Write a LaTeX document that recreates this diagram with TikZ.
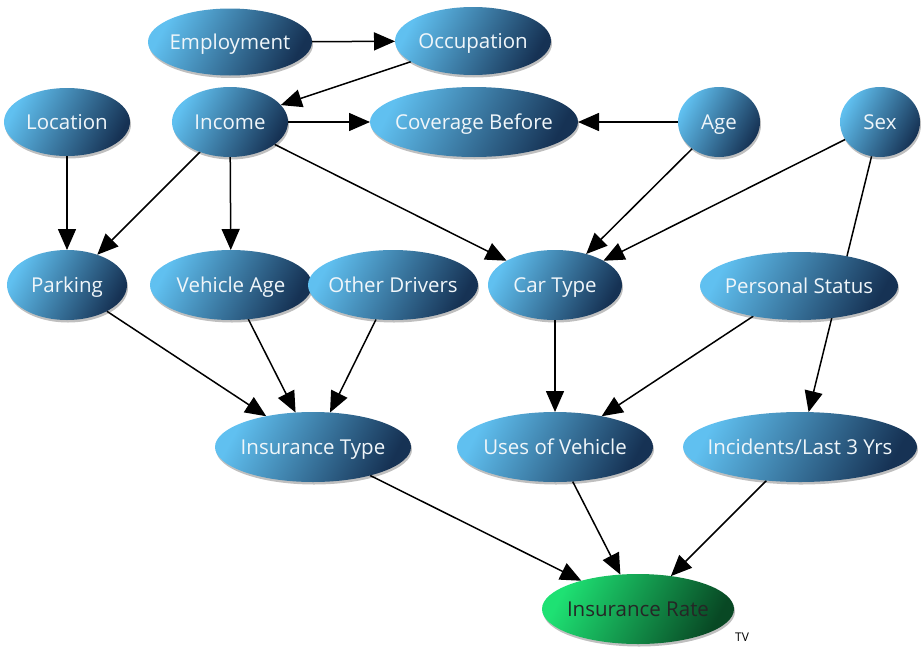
\documentclass[tikz,border=0pt]{standalone}
\usepackage{fontspec}
\setmainfont{Open Sans}
\usetikzlibrary{shapes.geometric,arrows.meta,shadows,backgrounds}
\definecolor{blueL}{RGB}{96,192,240}
\definecolor{blueD}{RGB}{22,50,84}
\definecolor{greenL}{RGB}{30,225,115}
\definecolor{greenD}{RGB}{8,72,36}
\definecolor{txtW}{RGB}{240,246,250}
\newcommand{\nlbl}[1]{\makebox[0pt][c]{#1}}
\tikzset{
  bn/.style={ellipse, inner sep=0pt, outer sep=0pt,
    top color=blueL, bottom color=blueD, shading angle=62,
    text=txtW, font=\fontsize{20.5}{23}\selectfont,
    text height=16pt, text depth=2pt,
    drop shadow={shadow xshift=1pt, shadow yshift=-2.5pt, opacity=0.25, fill=black}},
  gn/.style={bn, top color=greenL, bottom color=greenD, shading angle=62, text=black!85},
  edge/.style={draw=black, line width=1.5pt, -{Triangle[length=21pt,width=18pt]}},
}
\begin{document}
\begin{tikzpicture}[x=1pt,y=-1pt]
\useasboundingbox (0,0) rectangle (923,648);
% nodes
\node[bn, minimum width=164pt, minimum height=67pt] (emp) at (230,42) {\nlbl{Employment}};
\node[bn, minimum width=156pt, minimum height=68pt] (occ) at (473,41) {\nlbl{Occupation}};
\node[bn, minimum width=126pt, minimum height=68pt] (loc) at (67,122) {\nlbl{Location}};
\node[bn, minimum width=116pt, minimum height=70pt] (inc) at (230,122) {\nlbl{Income}};
\node[bn, minimum width=208pt, minimum height=70pt] (cov) at (474,122) {\nlbl{Coverage Before}};
\node[bn, minimum width=82pt, minimum height=70pt] (age) at (719,122) {\nlbl{Age}};
\node[bn, minimum width=80pt, minimum height=70pt] (sex) at (880,122) {\nlbl{Sex}};
\node[bn, minimum width=120pt, minimum height=70pt] (park) at (67,285) {\nlbl{Parking}};
\node[bn, minimum width=162pt, minimum height=70pt] (vage) at (231,285) {\nlbl{Vehicle Age}};
\node[bn, minimum width=170pt, minimum height=70pt] (oth) at (393,285) {\nlbl{Other Drivers}};
\node[bn, minimum width=134pt, minimum height=70pt] (car) at (555,285) {\nlbl{Car Type}};
\node[bn, minimum width=198pt, minimum height=68pt] (pers) at (799,286) {\nlbl{Personal Status}};
\node[bn, minimum width=196pt, minimum height=70pt] (itype) at (313,447) {\nlbl{Insurance Type}};
\node[bn, minimum width=196pt, minimum height=70pt] (uses) at (555,447) {\nlbl{Uses of Vehicle}};
\node[bn, minimum width=234pt, minimum height=70pt] (inci) at (800,447) {\nlbl{Incidents/Last 3 Yrs}};
\node[gn, minimum width=192pt, minimum height=70pt] (rate) at (638,609) {\nlbl{Insurance Rate}};
\node[font=\fontsize{12}{14}\selectfont, text=black, inner sep=0pt] (tv) at (742,637) {TV};
% edges
\begin{scope}[on background layer]
\draw[edge] (emp) -- (occ);
\draw[edge] (occ) -- (inc);
\draw[edge] (inc) -- (cov);
\draw[edge] (age) -- (cov);
\draw[edge] (loc) -- (park);
\draw[edge] (inc) -- (park);
\draw[edge] (inc) -- (vage);
\draw[edge] (inc) -- (car);
\draw[edge] (age) -- (car);
\draw[edge] (sex) -- (car);
\draw[edge] (sex) -- (inci);
\draw[edge] (park) -- (itype);
\draw[edge] (vage) -- (itype);
\draw[edge] (oth) -- (itype);
\draw[edge] (car) -- (uses);
\draw[edge] (pers) -- (uses);
\draw[edge] (itype) -- (rate);
\draw[edge] (uses) -- (rate);
\draw[edge] (inci) -- (rate);
\end{scope}
\end{tikzpicture}
\end{document}
